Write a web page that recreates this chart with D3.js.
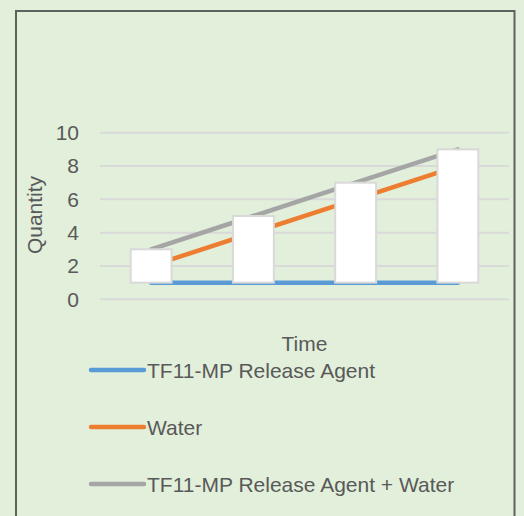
<!DOCTYPE html>
<html>
<head>
<meta charset="utf-8">
<script src="https://cdn.jsdelivr.net/npm/d3@7"></script>
<style>
  body { margin: 0; background: #e2efda; }
  svg { display: block; }
  text { font-family: "Liberation Sans", Arial, sans-serif; fill: #595959; }
</style>
</head>
<body>
<div id="chart"></div>
<script>
// chart data
var categories = ["1", "2", "3", "4"];
var seriesNames = ["TF11-MP Release Agent", "Water", "TF11-MP Release Agent + Water"];
var releaseAgent = [1, 1, 1, 1];
var water = [2, 4, 6, 8];
var combined = [3, 5, 7, 9];
var yTicks = [0, 2, 4, 6, 8, 10];

var width = 524, height = 516;
var colors = ["#5b9bd5", "#ed7d31", "#a5a5a5"];
var allSeries = [releaseAgent, water, combined];
var fontSize = 21;

var svg = d3.select("#chart").append("svg")
    .attr("width", width)
    .attr("height", height);

// outer frame (no bottom edge visible)
svg.append("path")
    .attr("d", "M16,516 V11 H514.5 V516")
    .attr("fill", "none")
    .attr("stroke", "#5d625d")
    .attr("stroke-width", 2);

var x = d3.scaleBand()
    .domain(categories)
    .range([100, 509]);

var y = d3.scaleLinear()
    .domain([0, 10])
    .range([299.3, 132.7]);

// gridlines
svg.append("g")
    .selectAll("line")
    .data(yTicks)
    .join("line")
    .attr("x1", 100)
    .attr("x2", 509)
    .attr("y1", function(d) { return y(d); })
    .attr("y2", function(d) { return y(d); })
    .attr("stroke", "#d9d9d9")
    .attr("stroke-width", 2);

// y axis labels
var yAxis = svg.append("g")
    .attr("transform", "translate(87,0)")
    .call(d3.axisLeft(y).tickValues(yTicks).tickSize(0).tickPadding(8));
yAxis.select(".domain").remove();
yAxis.selectAll("text")
    .attr("font-size", fontSize)
    .attr("font-family", "Liberation Sans, Arial, sans-serif")
    .attr("fill", "#595959");

// series lines
var line = d3.line()
    .x(function(d, i) { return x(categories[i]) + x.bandwidth() / 2; })
    .y(function(d) { return y(d); });

svg.append("g")
    .selectAll("path")
    .data(allSeries)
    .join("path")
    .attr("d", line)
    .attr("fill", "none")
    .attr("stroke", function(d, i) { return colors[i]; })
    .attr("stroke-width", 4.5)
    .attr("stroke-linecap", "round");

// up bars (first series -> last series)
var barW = x.bandwidth() * 0.4;
svg.append("g")
    .selectAll("rect")
    .data(categories)
    .join("rect")
    .attr("x", function(d) { return x(d) + x.bandwidth() / 2 - barW / 2; })
    .attr("y", function(d, i) { return y(combined[i]); })
    .attr("width", barW)
    .attr("height", function(d, i) { return y(releaseAgent[i]) - y(combined[i]); })
    .attr("fill", "#ffffff")
    .attr("stroke", "#d9d9d9")
    .attr("stroke-width", 2);

// axis titles
svg.append("text")
    .attr("x", 304.5)
    .attr("y", 351)
    .attr("text-anchor", "middle")
    .attr("font-size", fontSize)
    .text("Time");

svg.append("text")
    .attr("transform", "translate(42,215) rotate(-90)")
    .attr("text-anchor", "middle")
    .attr("font-size", fontSize)
    .text("Quantity");

// legend
var legend = svg.append("g")
    .selectAll("g")
    .data(seriesNames)
    .join("g")
    .attr("transform", function(d, i) { return "translate(0," + (370 + i * 57) + ")"; });

legend.append("line")
    .attr("x1", 91)
    .attr("x2", 144)
    .attr("stroke", function(d, i) { return colors[i]; })
    .attr("stroke-width", 4.5)
    .attr("stroke-linecap", "round");

legend.append("text")
    .attr("x", 147)
    .attr("y", 7.5)
    .attr("font-size", fontSize)
    .text(function(d) { return d; });
</script>
</body>
</html>
